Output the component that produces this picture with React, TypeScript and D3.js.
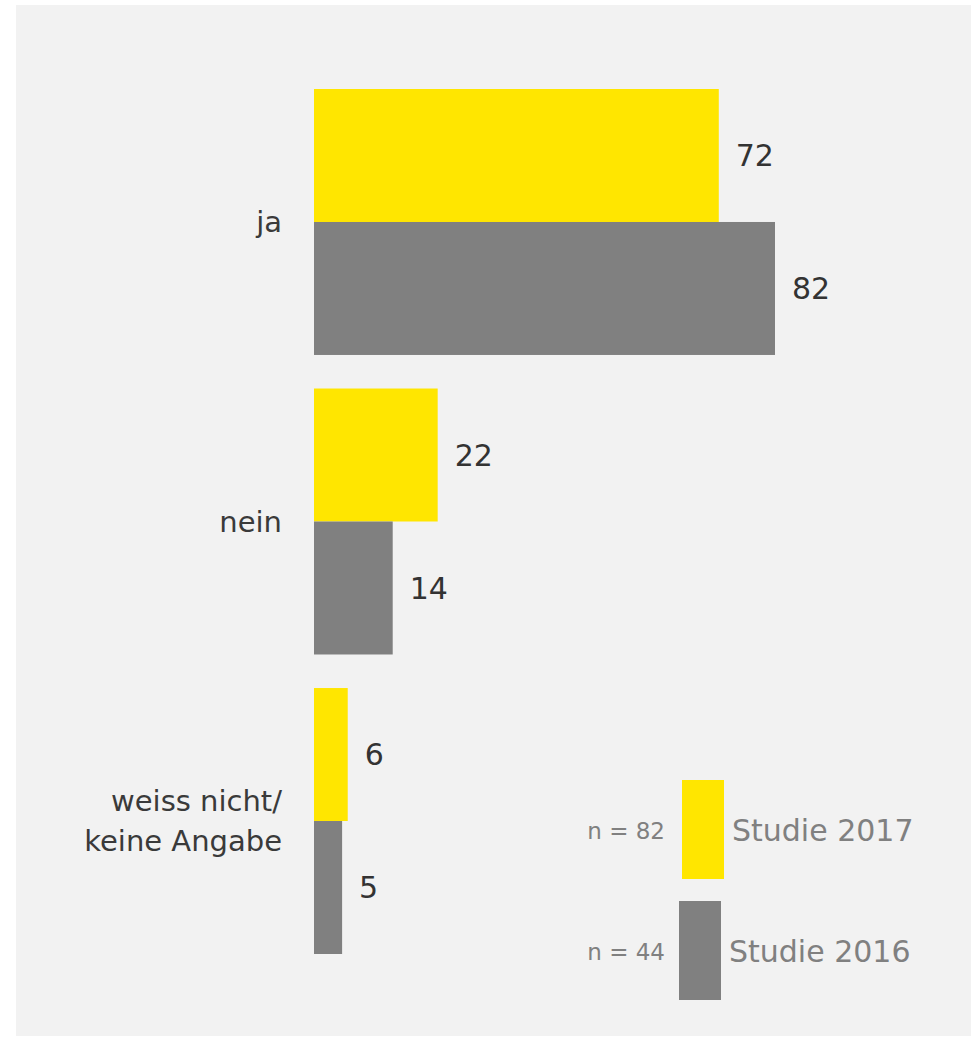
import React from "react";
import * as d3 from "d3";

const categories = ["ja", "nein", "weiss nicht/\nkeine Angabe"];
const seriesNames = ["Studie 2017", "Studie 2016"];
const seriesN = ["n = 82", "n = 44"];
const values2017 = [72, 22, 6];
const values2016 = [82, 14, 5];
const seriesColors = ["#FFE600", "#808080"];

const W = 973;
const H = 1037;
const FONT = "'DejaVu Sans', sans-serif";

export default function App() {
  const x = d3.scaleLinear().domain([0, 82]).range([314, 775]);
  const y = d3.scaleBand<string>().domain(categories).range([89, 954]).paddingInner(0.112).paddingOuter(0);
  const sub = d3.scaleBand<string>().domain(seriesNames).range([0, y.bandwidth()]);
  const series = [values2017, values2016];

  return (
    <svg width={W} height={H} style={{ position: "absolute", left: 0, top: 0 }} fontFamily={FONT}>
      <rect x={16} y={5} width={955} height={1031} fill="#f2f2f2" />
      {categories.map((cat, ci) => {
        const y0 = y(cat)!;
        const lines = cat.split("\n");
        const cy = y0 + y.bandwidth() / 2;
        return (
          <g key={cat}>
            {series.map((vals, si) => {
              const by = y0 + sub(seriesNames[si])!;
              const bw = x(vals[ci]) - x(0);
              return (
                <g key={si}>
                  <rect x={x(0)} y={by} width={bw} height={sub.bandwidth()} fill={seriesColors[si]} />
                  <text
                    x={x(vals[ci]) + 17}
                    y={by + sub.bandwidth() / 2}
                    dy="0.36em"
                    fontSize={30}
                    fill="#333333"
                  >
                    {vals[ci]}
                  </text>
                </g>
              );
            })}
            <text x={282} y={cy} textAnchor="end" fontSize={29} fill="#3a3a3a">
              {lines.map((ln, li) => (
                <tspan key={li} x={282} dy={li === 0 ? `${0.36 - (lines.length - 1) * 0.69}em` : "1.38em"}>
                  {ln}
                </tspan>
              ))}
            </text>
          </g>
        );
      })}
      {seriesNames.map((name, si) => {
        const ly = [780, 901][si];
        const lx = [682, 679][si];
        return (
          <g key={name}>
            <rect x={lx} y={ly} width={42} height={99} fill={seriesColors[si]} />
            <text x={665} y={ly + 59} textAnchor="end" fontSize={23} fill="#808080">
              {seriesN[si]}
            </text>
            <text x={lx + 50} y={ly + 61} fontSize={30} fill="#808080">
              {name}
            </text>
          </g>
        );
      })}
    </svg>
  );
}
